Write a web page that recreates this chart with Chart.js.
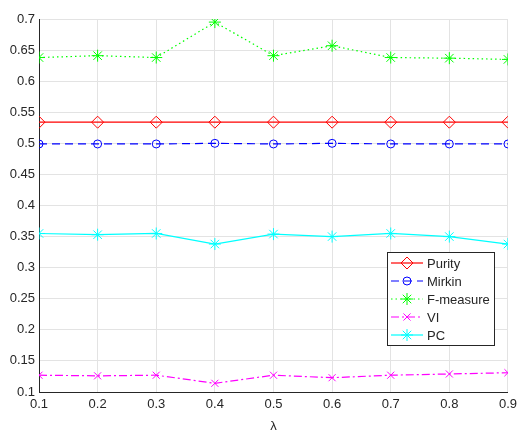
<!DOCTYPE html>
<html>
<head>
<meta charset="utf-8">
<script src="https://cdn.jsdelivr.net/npm/chart.js@4/dist/chart.umd.min.js"></script>
<style>
  html, body { margin: 0; padding: 0; background: #fff; }
  #wrap { width: 522px; height: 434px; }
</style>
</head>
<body>
<div id="wrap"><canvas id="chart" width="522" height="434"></canvas></div>
<script>
// lambda values on the x axis
const lambdas = [0.1, 0.2, 0.3, 0.4, 0.5, 0.6, 0.7, 0.8, 0.9];

// series values
const purity   = [0.534, 0.534, 0.534, 0.534, 0.534, 0.534, 0.534, 0.534, 0.534];
const mirkin   = [0.499, 0.499, 0.499, 0.500, 0.499, 0.500, 0.499, 0.499, 0.499];
const fMeasure = [0.638, 0.641, 0.638, 0.695, 0.641, 0.657, 0.638, 0.637, 0.635];
const vi       = [0.127, 0.126, 0.127, 0.114, 0.127, 0.123, 0.127, 0.129, 0.131];
const pc       = [0.355, 0.353, 0.355, 0.338, 0.354, 0.350, 0.355, 0.350, 0.338];

const seriesNames = ['Purity', 'Mirkin', 'F-measure', 'VI', 'PC'];

const textColor = '#262626';
const fontFamily = '"Liberation Sans", Arial, Helvetica, sans-serif';

function toPoints(values) {
    return lambdas.map((x, i) => ({ x: x, y: values[i] }));
}

function makeSeries(label, values, color, pointStyle, radius, dash) {
    return {
        label: label,
        data: toPoints(values),
        borderColor: color,
        backgroundColor: 'rgba(0,0,0,0)',
        borderWidth: 1.2,
        borderDash: dash,
        pointStyle: pointStyle,
        pointRadius: radius,
        pointBorderColor: color,
        pointBackgroundColor: 'rgba(0,0,0,0)',
        pointBorderWidth: 1,
        tension: 0,
        fill: false
    };
}

// MATLAB-like legend: short line with the marker in the middle
const boxLegend = {
    id: 'boxLegend',
    afterDraw(chart) {
        const ctx = chart.ctx;
        const x0 = 387, y0 = 252, w = 107, h = 93;
        ctx.save();
        ctx.fillStyle = '#fff';
        ctx.fillRect(x0, y0, w, h);
        ctx.strokeStyle = '#262626';
        ctx.lineWidth = 1;
        ctx.setLineDash([]);
        ctx.strokeRect(x0 + 0.5, y0 + 0.5, w, h);
        ctx.font = '13px ' + fontFamily;
        ctx.textBaseline = 'middle';
        chart.data.datasets.forEach((ds, i) => {
            const y = y0 + 11 + i * 18;
            ctx.strokeStyle = ds.borderColor;
            ctx.lineWidth = ds.borderWidth;
            ctx.setLineDash(ds.borderDash || []);
            ctx.beginPath();
            ctx.moveTo(x0 + 4, y);
            ctx.lineTo(x0 + 36, y);
            ctx.stroke();
            ctx.setLineDash([]);
            ctx.fillStyle = 'rgba(0,0,0,0)';
            ctx.lineWidth = 1;
            Chart.helpers.drawPoint(ctx, {
                pointStyle: ds.pointStyle,
                radius: ds.pointRadius,
                borderWidth: 1,
                rotation: 0
            }, x0 + 20, y);
            ctx.fillStyle = textColor;
            ctx.fillText(ds.label, x0 + 40, y + 1);
        });
        ctx.restore();
    }
};

new Chart(document.getElementById('chart').getContext('2d'), {
    type: 'line',
    data: {
        datasets: [
            makeSeries(seriesNames[0], purity, '#ff0000', 'rectRot', 6, []),
            makeSeries(seriesNames[1], mirkin, '#0000ff', 'circle', 4, [8, 5]),
            makeSeries(seriesNames[2], fMeasure, '#00ff00', 'star', 6, [1.5, 3]),
            makeSeries(seriesNames[3], vi, '#ff00ff', 'crossRot', 5, [8, 3, 2, 3]),
            makeSeries(seriesNames[4], pc, '#00ffff', 'star', 6, [])
        ]
    },
    options: {
        responsive: false,
        animation: false,
        layout: { padding: { top: 19, right: 10, left: 0, bottom: 0 } },
        plugins: {
            legend: { display: false },
            tooltip: { enabled: false }
        },
        scales: {
            x: {
                type: 'linear',
                min: 0.1,
                max: 0.9,
                afterFit(scale) { scale.height = 42; },
                ticks: {
                    stepSize: 0.1,
                    color: textColor,
                    font: { family: fontFamily, size: 13 },
                    padding: 5,
                    maxRotation: 0,
                    callback: v => v.toFixed(1)
                },
                grid: { color: '#e3e3e3', drawTicks: false },
                border: { color: textColor, width: 1 },
                title: {
                    display: true,
                    text: 'λ',
                    color: textColor,
                    font: { family: fontFamily, size: 13 },
                    padding: { top: 2, bottom: 0 }
                }
            },
            y: {
                min: 0.1,
                max: 0.7,
                afterFit(scale) { scale.width = 39; },
                ticks: {
                    stepSize: 0.05,
                    color: textColor,
                    font: { family: fontFamily, size: 13 },
                    padding: 4,
                    callback: v => {
                        const s = v.toFixed(2);
                        return s.endsWith('0') ? v.toFixed(1) : s;
                    }
                },
                grid: { color: '#e3e3e3', drawTicks: false },
                border: { color: textColor, width: 1 }
            }
        }
    },
    plugins: [boxLegend]
});
</script>
</body>
</html>
